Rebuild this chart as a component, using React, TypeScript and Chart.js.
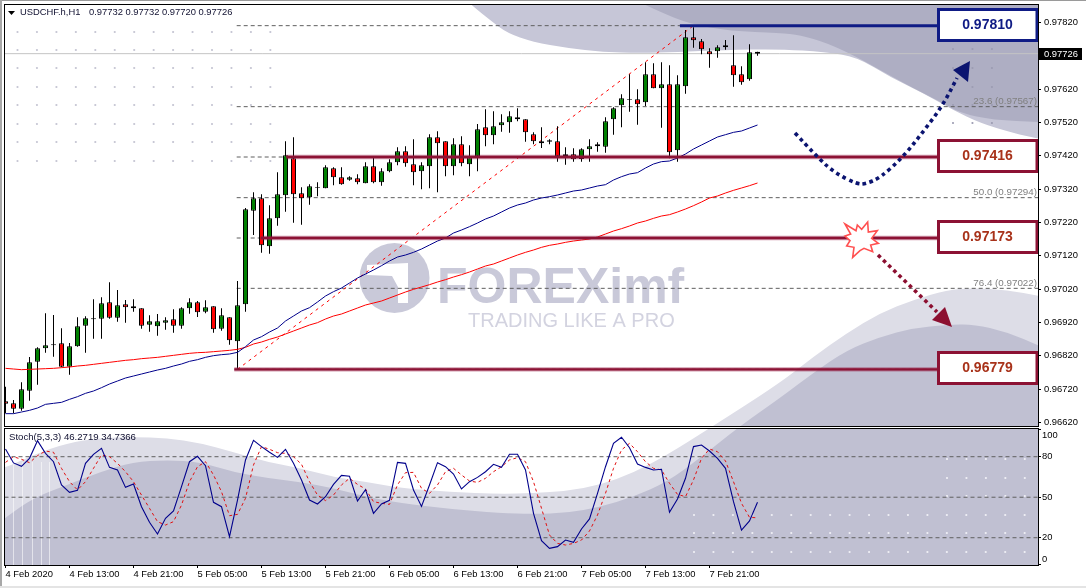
import React, { useEffect, useRef } from "react";
import { Chart, registerables } from "chart.js";
Chart.register(...registerables);

// ---- data (prices in 1e-5 units) ----
const open = [96683,96677,96661,96715,96802,96842,96851,96857,96787,96848,96910,96929,96931,96980,96934,96974,96968,96962,96913,96908,96919,96929,96910,96962,96980,96952,96968,96901,96935,96863,96974,97255,97292,97148,97232,97301,97412,97307,97295,97324,97322,97382,97355,97348,97352,97337,97388,97340,97373,97400,97433,97394,97373,97388,97475,97463,97388,97454,97394,97418,97505,97481,97511,97520,97535,97529,97484,97463,97462,97463,97418,97424,97410,97439,97454,97447,97529,97571,97587,97589,97580,97664,97622,97634,97436,97628,97775,97763,97733,97733,97745,97691,97664,97649,97732];
const close = [96676,96661,96719,96800,96842,96851,96854,96787,96848,96908,96932,96932,96977,96934,96971,96965,96962,96910,96923,96923,96926,96910,96962,96980,96950,96965,96899,96941,96866,96971,97259,97292,97151,97232,97304,97421,97304,97292,97328,97326,97385,97355,97334,97355,97340,97388,97340,97373,97400,97433,97397,97370,97391,97475,97457,97388,97454,97397,97415,97499,97481,97508,97520,97538,97529,97490,97463,97457,97466,97418,97424,97409,97439,97448,97448,97523,97562,97592,97589,97574,97664,97622,97634,97430,97634,97775,97766,97739,97724,97745,97751,97661,97640,97730,97726];
const high = [96727,96687,96740,96816,96845,96947,96942,96902,96858,96935,96938,96989,96995,97040,97017,96987,96989,96962,96941,96945,96935,96959,96965,96992,96984,96986,96968,96962,96935,97044,97263,97310,97304,97271,97370,97463,97475,97325,97334,97340,97391,97385,97385,97358,97364,97400,97417,97382,97409,97445,97448,97469,97400,97484,97493,97463,97472,97478,97451,97515,97559,97553,97544,97553,97562,97529,97490,97505,97469,97508,97445,97442,97442,97469,97460,97535,97565,97604,97664,97619,97700,97697,97700,97691,97661,97797,97805,97770,97742,97751,97767,97781,97688,97754,97732];
const low = [96647,96647,96655,96685,96733,96829,96817,96785,96763,96847,96829,96871,96871,96931,96922,96919,96952,96901,96892,96880,96898,96889,96901,96946,96936,96947,96889,96895,96853,96779,96952,97182,97129,97126,97210,97252,97219,97213,97273,97298,97322,97331,97333,97345,97334,97337,97337,97330,97370,97391,97387,97331,97319,97322,97310,97358,97361,97388,97358,97373,97448,97454,97492,97489,97523,97462,97454,97443,97454,97402,97393,97402,97402,97402,97432,97429,97483,97505,97552,97513,97569,97622,97504,97412,97402,97606,97744,97724,97684,97714,97738,97627,97633,97645,97720];
const maBlue = [96646,96646,96651,96656,96663,96674,96677,96680,96689,96697,96707,96714,96724,96735,96744,96753,96759,96765,96771,96777,96782,96789,96795,96803,96808,96815,96820,96823,96825,96830,96847,96867,96877,96891,96903,96924,96939,96954,96964,96981,96999,97012,97023,97038,97053,97065,97077,97090,97104,97116,97122,97130,97140,97152,97164,97173,97188,97197,97207,97218,97230,97239,97251,97263,97272,97278,97287,97293,97297,97302,97308,97314,97317,97323,97329,97333,97347,97357,97365,97369,97383,97395,97402,97404,97413,97425,97440,97452,97464,97476,97483,97490,97494,97503,97512];
const maRed = [96782,96780,96778,96779,96780,96781,96782,96784,96786,96789,96791,96794,96797,96800,96803,96806,96808,96811,96813,96815,96818,96821,96824,96827,96829,96830,96832,96834,96836,96839,96845,96855,96861,96869,96876,96885,96894,96903,96912,96919,96930,96939,96945,96954,96963,96972,96978,96984,96993,97002,97011,97019,97026,97033,97041,97048,97056,97063,97071,97080,97089,97095,97104,97113,97122,97130,97137,97145,97151,97155,97160,97164,97167,97170,97176,97185,97194,97201,97209,97218,97224,97232,97239,97243,97251,97260,97270,97281,97293,97299,97308,97316,97323,97330,97338];
const stochK = [85.7,75.4,72.9,78.8,91.9,82.5,76.3,59.1,53.6,55.1,75.1,81.8,86.2,72.1,70.2,57.3,59.8,43,31.4,22.8,34.4,39.8,57.8,76.3,80.3,73.4,46.2,43,20.8,47.9,77.6,92.1,87.5,83.3,79.5,85.5,75.1,62.8,47.9,45,50.4,59.5,66.2,65.5,47.2,55.6,38.1,45,47.7,75.8,75.1,55.4,43.2,59.1,75.6,72.6,67.2,56.1,61.5,64.7,68.9,74.4,72.1,81.8,81.8,70.2,38.1,17.8,12.1,13.4,18.3,16.6,26.5,33.9,52.9,72.6,89.9,94.4,86.7,74.6,72.1,70.2,70.7,38.8,48.7,64,87.5,88.7,84.2,78.8,71.4,46.7,25.7,32.4,46.27];
const stochD = [75.8,80,78.1,75.6,80.8,84.2,83.3,71.4,61.5,55.4,61.5,71.4,81.3,80,75.1,68.9,61.5,51.6,41.8,31.9,29.4,31.9,44.2,61.5,72.6,76.3,66.5,54.1,36.3,37.3,49.2,73.9,87.5,85.5,83,82.5,80,74.4,61.5,51.6,47.5,51.6,59.1,64,59.5,56.1,46.7,45.5,44.7,59.1,68.2,68.4,56.6,52.9,59.1,68.9,71.4,66.5,62,61,64,68.9,72.6,77.6,79.3,76.3,61.5,41.8,22,15.8,14.6,15.8,18.3,25,36.8,52.9,71.4,85,89.9,83.7,76.3,71.4,70.2,60.3,52.1,50.4,62.8,78.8,85.7,83.7,76.8,61.5,45.5,35.1,34.74];
const priceTicks = [0.9782,0.9762,0.9752,0.9742,0.9732,0.9722,0.9712,0.9702,0.9692,0.9682,0.9672,0.9662];
const stochTicks = [100,80,50,20,0];
const stochLevels = [80,50,20];
const timeLabels = ["4 Feb 2020","4 Feb 13:00","4 Feb 21:00","5 Feb 05:00","5 Feb 13:00","5 Feb 21:00","6 Feb 05:00","6 Feb 13:00","6 Feb 21:00","7 Feb 05:00","7 Feb 13:00","7 Feb 21:00"];
const timeTickIndex = [0,8,16,24,32,40,48,56,64,72,80,88];
const fibLevels = [0.9781,0.97567,0.97416,0.97294,0.97173,0.97022,0.96779];
const fibText = [["23.6 (0.97567)",0.97567],["50.0 (0.97294)",0.97294],["76.4 (0.97022)",0.97022]] as [string,number][];
const fibStart = 29, fibEnd = 86;
const bidPrice = 0.97726;
const keyLevels = [0.9781,0.97416,0.97173,0.96779];
const keyLevelStart = [84.3,35.1,31.9,28.6];

// ---- styling / layout ----
const FONT = '"Liberation Sans", Arial, sans-serif';
const TICK_FONT = { family: '"Liberation Sans", Arial, sans-serif', size: 9.4 };
const L = 4.5, R = 1038, LAST = (R - 5.5) / 8, FIRST = (L - 5.5) / 8, BOX_X = (937 - 5.5) / 8;
const px = (a: number[]) => a.map((v) => v / 1e5);
const series = (a: number[]) => a.map((y, x) => ({ x, y }));
const flat = (y: number, a: number, b: number) => [{ x: a, y }, { x: b, y }];
const noPad = (s: any) => { s.paddingTop = 0; s.paddingBottom = 0; s.paddingLeft = 0; s.paddingRight = 0; };

const lightB: number[][] = [[0,468],[5,468],[33,455],[67,443],[100,438],[133,437],[167,438],[200,443],[233,452],[267,462],[300,468],[333,477],[367,482],[400,488],[450,492],[500,494],[533,493],[567,491],[600,485],[633,473],[667,455],[710,428],[780,383],[813,357],[847,333],[880,313],[913,300],[947,290],[973,288],[1007,290],[1040,296]];
const darkB: number[][] = [[0,522],[5,518],[33,498],[67,485],[100,472],[133,462],[167,460],[200,462],[233,472],[267,478],[300,482],[333,488],[367,497],[400,503],[450,509],[500,513],[533,514],[567,513],[600,507],[633,497],[667,482],[700,458],[740,426],[780,398],[813,373],[847,350],[880,337],[913,328],[947,325],[973,324],[1007,332],[1040,346]];
const lightT: number[][] = [[466,0],[475,8],[490,20],[507,33],[533,42],[567,48],[603,52],[640,53],[677,52],[723,50],[780,49],[825,52],[857,57],[890,77],[923,93],[953,110],[980,123],[1013,133],[1040,139]];
const darkT: number[][] = [[635,0],[660,12],[690,24],[730,31],[780,33],[800,35],[827,43],[857,57],[880,70],[913,88],[937,100],[960,113],[993,120],[1040,122]];

function curve(c: CanvasRenderingContext2D, pts: number[][]) {
  c.moveTo(pts[0][0], pts[0][1]);
  for (let i = 1; i < pts.length - 1; i++) {
    const mx = (pts[i][0] + pts[i + 1][0]) / 2, my = (pts[i][1] + pts[i + 1][1]) / 2;
    c.quadraticCurveTo(pts[i][0], pts[i][1], mx, my);
  }
  c.lineTo(pts[pts.length - 1][0], pts[pts.length - 1][1]);
}
function fillBelow(c: CanvasRenderingContext2D, pts: number[][], col: string) {
  c.beginPath(); curve(c, pts); c.lineTo(1040, 570); c.lineTo(0, 570); c.closePath(); c.fillStyle = col; c.fill();
}
function fillAbove(c: CanvasRenderingContext2D, pts: number[][], col: string) {
  c.beginPath(); curve(c, pts); c.lineTo(1040, 0); c.closePath(); c.fillStyle = col; c.fill();
}
function dots(c: CanvasRenderingContext2D, xs: number[], ys: number[], col: string) {
  c.fillStyle = col;
  for (const x of xs) for (const y of ys) { c.beginPath(); c.arc(x, y, 1.1, 0, Math.PI * 2); c.fill(); }
}
const cols = (start: number, n: number) => Array.from({ length: n }, (_, i) => start + i * 19.45);

function background(c: CanvasRenderingContext2D, offset: number, bottom: number, top: number) {
  c.save();
  c.beginPath(); c.rect(L, top, R - L, bottom - top); c.clip();
  c.translate(0, -offset);
  fillBelow(c, lightB, "#dddde7");
  fillBelow(c, darkB, "#c0c0d2");
  fillAbove(c, lightT, "#c6c6d7");
  fillAbove(c, darkT, "#aeaec3");
  if (offset === 0) {
    dots(c, cols(17.5, 14), [32, 50, 68, 87, 105, 124, 142, 161], "#c4c4d2");
    dots(c, cols(953, 3), [49, 68, 87, 105, 123], "#9c9cb2");
    c.fillStyle = "#c9c9d9";
    c.beginPath(); c.arc(394.5, 278, 35, 0, Math.PI * 2); c.fill();
    c.fillStyle = "#ffffff";
    c.beginPath(); c.moveTo(367, 265); c.lineTo(408, 263); c.lineTo(408, 303); c.lineTo(398, 303); c.lineTo(398, 287); c.lineTo(392, 276); c.lineTo(367, 275); c.closePath(); c.fill();
    c.fillStyle = "#c9c9d9";
    c.font = `bold 50px ${FONT}`;
    c.textBaseline = "alphabetic"; c.textAlign = "left";
    c.fillText("FOREXimf", 437, 303);
    c.fillStyle = "#d3d3e0";
    c.font = `20px ${FONT}`;
    c.fillText("TRADING LIKE A PRO", 468, 327);
  } else {
    c.strokeStyle = "rgba(255,255,255,0.55)"; c.lineWidth = 1;
    for (const x of [13, 22, 32, 41, 49]) { c.beginPath(); c.moveTo(x + 0.5, 462); c.lineTo(x + 0.5, 565); c.stroke(); }
    dots(c, cols(694, 18), [515, 533, 552], "#f0f0f6");
    dots(c, cols(947, 5), [459, 478, 496], "#f0f0f6");
  }
  c.restore();
}

function dottedArrow(c: CanvasRenderingContext2D, pts: number[][], head: number[][], col: string) {
  c.save();
  c.strokeStyle = col; c.fillStyle = col; c.lineWidth = 3.6; c.setLineDash([3.6, 3.6]);
  c.beginPath(); curve(c, pts); c.stroke();
  c.setLineDash([]);
  c.beginPath(); head.forEach((p, i) => (i ? c.lineTo(p[0], p[1]) : c.moveTo(p[0], p[1]))); c.closePath(); c.fill();
  c.restore();
}

const NAVY = "#0f1b85", WINE = "#8c1234", WINE_TXT = "#a8321a";

const mainPlugin = {
  id: "mainDecor",
  beforeDatasetsDraw(chart: any) { background(chart.ctx, 0, chart.chartArea.bottom, chart.chartArea.top); },
  afterDatasetsDraw(chart: any) {
    const c: CanvasRenderingContext2D = chart.ctx;
    const y = chart.scales.y;
    c.save();
    // fib captions
    c.font = `9.8px ${FONT}`; c.fillStyle = "#808080"; c.textAlign = "right"; c.textBaseline = "middle";
    fibText.forEach(([t, v]) => c.fillText(t, 1037, y.getPixelForValue(v) - 5.5));
    // arrows
    dottedArrow(c, [[795,133],[817,157],[835,173],[857,184],[865,184],[880,178],[903,157],[923,132],[943,105],[957,78]],
      [[970,61],[953,70],[968,82]], "#0b1470");
    dottedArrow(c, [[878,255],[937,312]], [[952,327],[932,320],[945,307]], "#8c0f30");
    // burst
    const burst = [[195,42],[228,62],[232,45],[245,58],[263,36],[265,66],[292,62],[275,85],[295,100],[272,105],[278,125],[252,115],[240,122],[218,142],[222,112],[200,108],[210,92],[195,78],[212,72]];
    c.beginPath();
    burst.forEach((p, i) => { const X = 780 + p[0] / 3, Y = 210 + p[1] / 3; i ? c.lineTo(X, Y) : c.moveTo(X, Y); });
    c.closePath(); c.fillStyle = "#ffffff"; c.fill(); c.strokeStyle = "#ff5050"; c.lineWidth = 1.6; c.stroke();
    // level boxes
    keyLevels.forEach((v, i) => {
      const col = i === 0 ? NAVY : WINE;
      const cy = Math.round(y.getPixelForValue(v) - 1);
      c.fillStyle = "#ffffff"; c.fillRect(937, cy - 16.5, 101, 33);
      c.strokeStyle = col; c.lineWidth = 3; c.strokeRect(938.5, cy - 15.5, 98.5, 31);
      c.fillStyle = i === 0 ? NAVY : WINE_TXT;
      c.font = `bold 14px ${FONT}`; c.textAlign = "center"; c.textBaseline = "middle";
      c.fillText(v.toFixed(5), 987.5, cy + 0.5);
    });
    c.restore();
  },
  afterDraw(chart: any) {
    const c: CanvasRenderingContext2D = chart.ctx;
    const y = chart.scales.y;
    c.save();
    c.strokeStyle = "#000"; c.lineWidth = 1;
    c.strokeRect(4.5, 4.5, 1034, 422);
    // current price tag
    const py = Math.round(y.getPixelForValue(bidPrice));
    c.fillStyle = "#000"; c.fillRect(1039, py - 6, 43, 12);
    c.fillStyle = "#fff"; c.font = `9.4px ${FONT}`; c.textAlign = "left"; c.textBaseline = "middle";
    c.fillText(bidPrice.toFixed(5), 1044, py + 0.5);
    // title
    c.fillStyle = "#000";
    c.beginPath(); c.moveTo(8, 11); c.lineTo(15, 11); c.lineTo(11.5, 15); c.closePath(); c.fill();
    c.fillStyle = "#101030"; c.font = `9.4px ${FONT}`;
    c.fillText("USDCHF.h,H1", 20, 12.5);
    c.fillText("0.97732 0.97732 0.97720 0.97726", 89, 12.5);
    c.restore();
  },
};

const stochPlugin = {
  id: "stochDecor",
  beforeDatasetsDraw(chart: any) { background(chart.ctx, 428, chart.chartArea.bottom, chart.chartArea.top); },
  afterDraw(chart: any) {
    const c: CanvasRenderingContext2D = chart.ctx;
    c.save();
    c.strokeStyle = "#000"; c.lineWidth = 1;
    c.strokeRect(4.5, 0.5, 1034, 137);
    c.fillStyle = "#101030"; c.font = `9.6px ${FONT}`; c.textAlign = "left"; c.textBaseline = "middle";
    c.fillText("Stoch(5,3,3) 46.2719 34.7366", 9, 9.5);
    c.restore();
  },
};

const hiddenX = { type: "linear", min: FIRST, max: LAST, display: false, offset: false };

export default function App() {
  const mainRef = useRef<HTMLCanvasElement>(null);
  const stochRef = useRef<HTMLCanvasElement>(null);

  useEffect(() => {
    const O = px(open), C = px(close), H = px(high), Lo = px(low);
    const colors = O.map((o, i) => (C[i] >= o ? "#008000" : "#ff0000"));
    const datasets: any[] = [
      ...keyLevels.map((v, i) => ({
        type: "line", label: "level" + v, data: flat(v, keyLevelStart[i], BOX_X), order: 1,
        borderColor: i === 0 ? "#0f1b85" : WINE, borderWidth: i === 0 ? 3 : 2.4, pointRadius: 0,
      })),
      ...keyLevels.slice(1).map((v, i) => ({
        type: "line", label: "halo" + v, data: flat(v, keyLevelStart[i + 1], BOX_X), order: 1.5,
        borderColor: "rgba(150,30,70,0.45)", borderWidth: 4.4, pointRadius: 0,
      })),
      { type: "line", label: "MA blue", data: series(px(maBlue)), order: 2, borderColor: "#00008b", borderWidth: 1, pointRadius: 0, tension: 0 },
      { type: "line", label: "MA red", data: series(px(maRed)), order: 2, borderColor: "#ff0000", borderWidth: 1, pointRadius: 0, tension: 0 },
      {
        type: "bar", label: "body", order: 3, grouped: false, barThickness: 5,
        data: O.map((o, i) => ({ x: i, y: [o, C[i]] })),
        backgroundColor: colors, borderColor: "#000", borderWidth: 1, borderSkipped: false, inflateAmount: 0,
      },
      {
        type: "bar", label: "wick", order: 4, grouped: false, barThickness: 1,
        data: H.map((h, i) => ({ x: i, y: [Lo[i], h] })),
        backgroundColor: "#000", borderWidth: 0, inflateAmount: 0,
      },
      {
        type: "line", label: "fib trend", order: 5, pointRadius: 0, borderColor: "#ff0000", borderWidth: 1, borderDash: [3, 4],
        data: [{ x: fibStart, y: low[fibStart] / 1e5 }, { x: fibEnd, y: fibLevels[0] }],
      },
      ...fibLevels.map((v) => ({
        type: "line", label: "fib" + v, order: 6, pointRadius: 0, borderColor: "#5f5f5f", borderWidth: 1, borderDash: [4, 3],
        data: flat(v, fibStart - 0.1, LAST),
      })),
      { type: "line", label: "bid", order: 7, pointRadius: 0, borderColor: "#c4c4c4", borderWidth: 1, data: flat(bidPrice, FIRST, LAST) },
    ];

    const main = new Chart(mainRef.current!, {
      type: "bar",
      data: { datasets },
      plugins: [mainPlugin],
      options: {
        animation: false, responsive: false, devicePixelRatio: 1, events: [],
        layout: { padding: { left: L, top: 4.5, right: 0, bottom: 2 } },
        plugins: { legend: { display: false }, title: { display: false }, tooltip: { enabled: false } },
        scales: {
          x: hiddenX,
          y: {
            position: "right", min: 0.96609, max: 0.978735,
            afterFit: (s: any) => { s.width = 1086 - R; noPad(s); },
            afterBuildTicks: (s: any) => { s.ticks = priceTicks.map((value) => ({ value })); },
            border: { display: false },
            grid: { drawOnChartArea: false, drawTicks: true, tickLength: 3, color: "#000" },
            ticks: { autoSkip: false, padding: 3, color: "#000", font: TICK_FONT, callback: (v: any) => Number(v).toFixed(5) },
          },
        },
      } as any,
    } as any);

    const stoch = new Chart(stochRef.current!, {
      type: "line",
      data: {
        datasets: [
          { label: "%K", data: series(stochK), order: 1, borderColor: "#00008b", borderWidth: 1.1, pointRadius: 0 },
          { label: "%D", data: series(stochD), order: 2, borderColor: "#e01010", borderWidth: 1, borderDash: [3, 3], pointRadius: 0 },
          ...stochLevels.map((v) => ({
            label: "lvl" + v, data: flat(v, FIRST, LAST), order: 3, borderColor: "#5f5f5f", borderWidth: 1, borderDash: [4, 3], pointRadius: 0,
          })),
        ],
      },
      plugins: [stochPlugin],
      options: {
        animation: false, responsive: false, devicePixelRatio: 1, events: [],
        layout: { padding: { left: L, top: 0.5, right: 0, bottom: 0 } },
        plugins: { legend: { display: false }, title: { display: false }, tooltip: { enabled: false } },
        scales: {
          x: {
            type: "linear", min: FIRST, max: LAST, position: "bottom", offset: false,
            afterFit: (s: any) => { s.height = 23; noPad(s); },
            afterBuildTicks: (s: any) => { s.ticks = timeTickIndex.map((value) => ({ value })); },
            border: { display: false },
            grid: { drawOnChartArea: false, drawTicks: true, tickLength: 3, color: "#000" },
            ticks: {
              autoSkip: false, maxRotation: 0, minRotation: 0, align: "start", padding: 1, color: "#000", font: TICK_FONT,
              callback: (_v: any, i: number) => timeLabels[i],
            },
          },
          y: {
            position: "right", min: -0.2, max: 100.9,
            afterFit: (s: any) => { s.width = 1086 - R; noPad(s); },
            afterBuildTicks: (s: any) => { s.ticks = stochTicks.map((value) => ({ value })); },
            border: { display: false },
            grid: { drawOnChartArea: false, drawTicks: true, tickLength: 3, color: "#000" },
            ticks: {
              autoSkip: false, padding: 1, color: "#000", font: TICK_FONT,
              callback: (v: any) => (v === 100 ? ["", "100"] : v === 0 ? ["0", ""] : String(v)),
            },
          },
        },
      } as any,
    } as any);

    return () => { main.destroy(); stoch.destroy(); };
  }, []);

  return (
    <div style={{ position: "fixed", left: 0, top: 0, width: 1086, height: 588, background: "#fff", overflow: "hidden" }}>
      <div style={{ position: "absolute", left: 0, top: 0, width: 1086, height: 1, background: "#9a9a9a" }} />
      <div style={{ position: "absolute", left: 0, top: 0, width: 2, height: 588, background: "#a8a8a8" }} />
      <div style={{ position: "absolute", left: 0, top: 586, width: 1086, height: 2, background: "#e4e4e4" }} />
      <canvas ref={mainRef} width={1086} height={428} style={{ position: "absolute", left: 0, top: 0, width: 1086, height: 428 }} />
      <canvas ref={stochRef} width={1086} height={160} style={{ position: "absolute", left: 0, top: 428, width: 1086, height: 160 }} />
    </div>
  );
}
